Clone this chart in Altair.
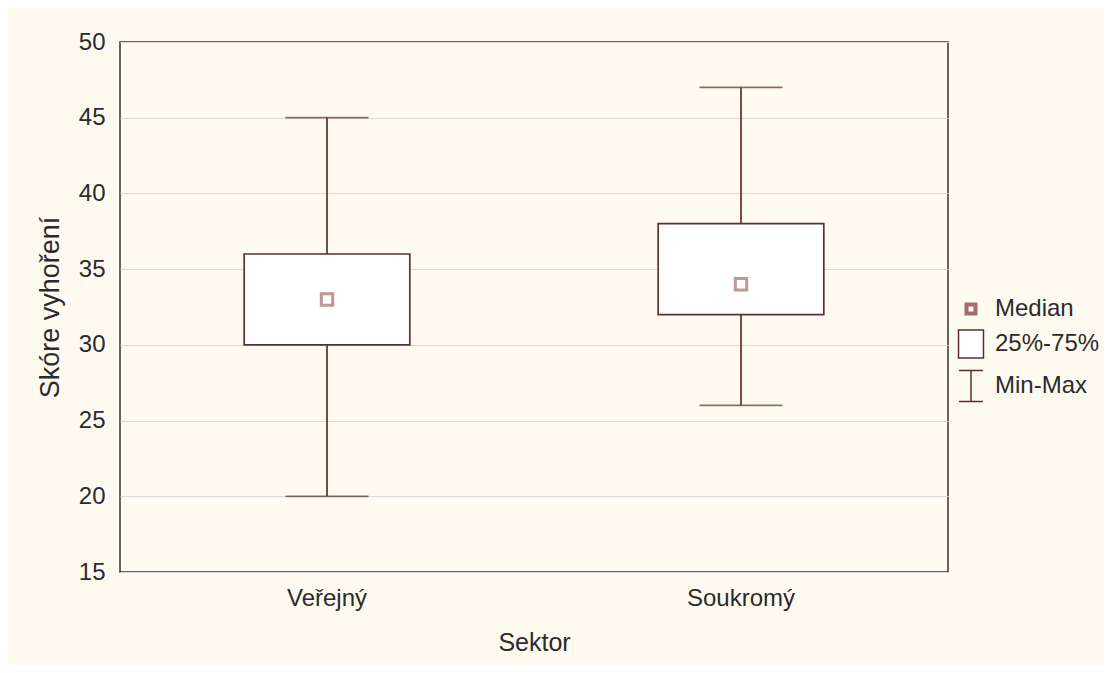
import altair as alt
import pandas as pd

# ---- data ----
sectors = ["Veřejný", "Soukromý"]
mins = [20, 26]
q1s = [30, 32]
medians = [33, 34]
q3s = [36, 38]
maxs = [45, 47]
y_ticks = [15, 20, 25, 30, 35, 40, 45, 50]
legend_labels = ["Median", "25%-75%", "Min-Max"]

df = pd.DataFrame({"Sektor": sectors, "min": mins, "q1": q1s,
                   "median": medians, "q3": q3s, "max": maxs})
leg = pd.DataFrame({"item": legend_labels})

BOX = "#5b2f2f"
MED = "#a86a6a"
FONT = "Liberation Sans"
TXT = "#2b2b2b"

x = alt.X("Sektor:N", sort=sectors,
          scale=alt.Scale(paddingInner=0.6, paddingOuter=0.3),
          axis=alt.Axis(title="Sektor", labelAngle=0, ticks=False, domain=False,
                        labelPadding=14, titlePadding=20, grid=False))
yscale = alt.Scale(domain=[15, 50], nice=False, zero=False)

base = alt.Chart(df)

whisker = base.mark_rule(color=BOX, strokeWidth=1.7).encode(
    x=x,
    y=alt.Y("min:Q", scale=yscale,
            axis=alt.Axis(title="Skóre vyhoření", values=y_ticks, ticks=False,
                          domain=False, labelPadding=15, titlePadding=14,
                          titleFontSize=27,
                          grid=True, gridColor="#d9d9d9", gridWidth=1)),
    y2="max:Q",
)
box = base.mark_bar(fill="white", stroke=BOX, strokeWidth=1.7).encode(
    x=x, y=alt.Y("q1:Q", scale=yscale), y2="q3:Q")
cap_lo = base.mark_tick(color=BOX, thickness=1.7, size=83).encode(
    x=x, y=alt.Y("min:Q", scale=yscale))
cap_hi = base.mark_tick(color=BOX, thickness=1.7, size=83).encode(
    x=x, y=alt.Y("max:Q", scale=yscale))
med = base.mark_point(shape="square", filled=False, size=130, stroke=MED,
                      strokeWidth=3).encode(x=x, y=alt.Y("median:Q", scale=yscale))

paths = [
    "M-0.36,-0.36H0.36V0.36H-0.36Z M-0.2,-0.2V0.2H0.2V-0.2Z",
    "M-0.78,-0.875H0.78V0.875H-0.78Z",
    "M-0.75,-0.97H0.75M0,-0.97V0.97M-0.75,0.97H0.75",
]
legend_layer = alt.Chart(leg).mark_point(opacity=0).encode(
    shape=alt.Shape("item:N", sort=legend_labels,
                    scale=alt.Scale(domain=legend_labels, range=paths),
                    legend=alt.Legend(title=None, orient="none", legendX=834,
                                      legendY=250, symbolSize=1024,
                                      symbolStrokeWidth=1.5, symbolOpacity=1,
                                      labelFont=FONT, labelFontSize=24,
                                      labelColor=TXT, labelOffset=7,
                                      rowPadding=6, padding=0)),
    stroke=alt.Stroke("item:N", sort=legend_labels,
                      scale=alt.Scale(domain=legend_labels, range=[MED, BOX, BOX])),
    fill=alt.Fill("item:N", sort=legend_labels,
                  scale=alt.Scale(domain=legend_labels, range=[MED, "white", "white"])),
)

chart = alt.layer(whisker, box, cap_lo, cap_hi, med, legend_layer).properties(
    width=828, height=530,
    background="#fffaf0",
    autosize=alt.AutoSizeParams(type="none"),
    padding={"left": 112, "top": 34, "right": 156, "bottom": 93},
).configure_view(
    stroke="#333333", strokeWidth=1.5, fill="white"
).configure_axis(
    labelFont=FONT, titleFont=FONT, labelFontSize=24, titleFontSize=25,
    labelColor=TXT, titleColor=TXT, titleFontWeight="normal",
)

chart.save("out.html", embed_options={"renderer": "svg", "actions": False})
